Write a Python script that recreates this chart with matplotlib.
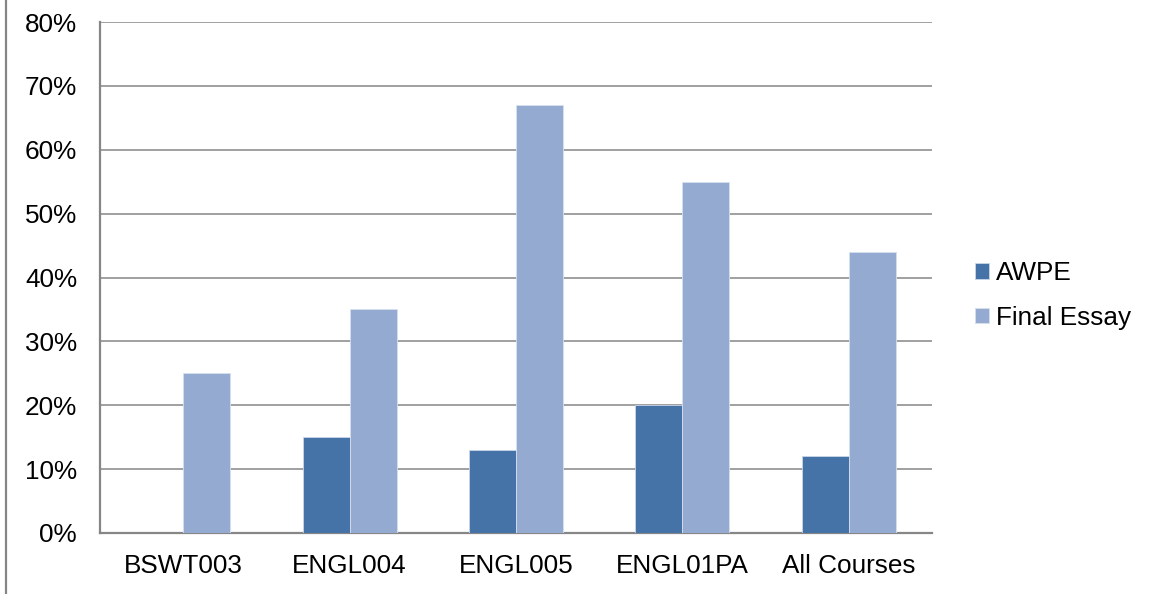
import matplotlib
matplotlib.use("Agg")
import matplotlib.pyplot as plt
import numpy as np
from matplotlib.lines import Line2D

# Dane
courses = ["BSWT003", "ENGL004", "ENGL005", "ENGL01PA", "All Courses"]
awpe = [0, 15, 13, 20, 12]
final_essay = [25, 35, 67, 55, 44]

plt.rcParams['font.family'] = ['Liberation Sans', 'DejaVu Sans']

W, H = 1153, 594
fig = plt.figure(figsize=(W / 100, H / 100), dpi=100)
ax = fig.add_axes([100 / W, 1 - 533 / H, 832 / W, 511 / H])

x = np.arange(len(courses))
width = 0.283
ax.bar(x - width / 2, awpe, width, color="#4573A7", edgecolor="#C9D6E8", linewidth=0.6,
       label="AWPE", zorder=3)
ax.bar(x + width / 2, final_essay, width, color="#95AAD1", edgecolor="#D6E0EF", linewidth=0.6,
       label="Final Essay", zorder=3)

ax.set_xlim(-0.5, len(courses) - 0.5)
ax.set_ylim(0, 80)
ax.set_yticks(range(0, 81, 10))
ax.set_yticklabels([f"{v}%" for v in range(0, 81, 10)])
ax.set_xticks(x)
ax.set_xticklabels(courses)
ax.tick_params(axis="both", length=0, labelsize=18.8, colors="black")
ax.tick_params(axis="y", pad=16.5)
ax.tick_params(axis="x", pad=15)

ax.yaxis.grid(True, color="#A0A0A0", linewidth=1.4, zorder=0)
ax.set_axisbelow(True)
for side in ["top", "right"]:
    ax.spines[side].set_visible(False)
for side in ["left", "bottom"]:
    ax.spines[side].set_color("#868686")
    ax.spines[side].set_linewidth(1.6)

ax.legend(loc="center left", bbox_to_anchor=(1.023, 0.465), frameon=False, fontsize=18.8,
          handlelength=0.55, handleheight=0.55, handletextpad=0.27, labelspacing=0.8)

# ramka po lewej stronie
fig.add_artist(Line2D([6 / W, 6 / W], [0, 1], color="#868686", linewidth=1.6))

fig.savefig("out.png", dpi=100)
